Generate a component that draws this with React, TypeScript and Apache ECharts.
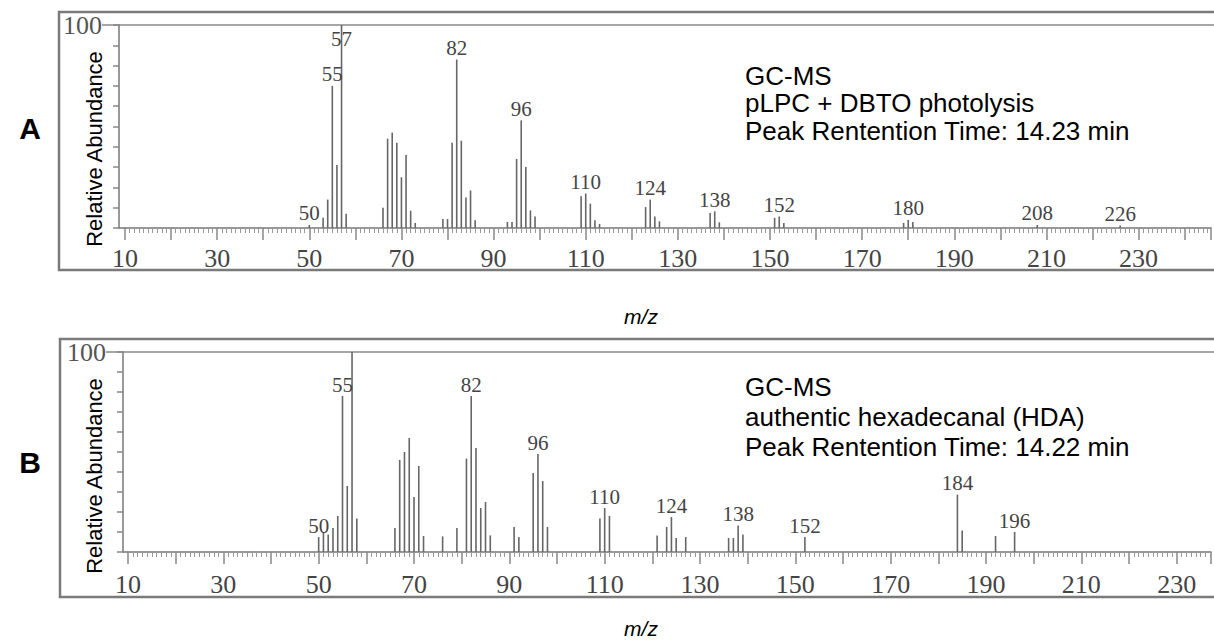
import React, { useEffect, useRef } from "react";
import * as echarts from "echarts";

// ---- data ----
const mzA = [50, 53, 54, 55, 56, 57, 58, 66, 67, 68, 69, 70, 71, 72, 73, 79, 80, 81, 82, 83, 84, 85, 86, 93, 94, 95, 96, 97, 98, 99, 109, 110, 111, 112, 113, 123, 124, 125, 126, 137, 138, 139, 151, 152, 153, 179, 180, 181, 208, 226];
const abundanceA = [1.5, 5, 14, 70, 31, 100, 7, 10, 44, 47, 42, 25, 36, 8.5, 2.5, 4.4, 4.4, 42, 83, 43, 15, 18.5, 3.8, 3, 3, 34, 53, 30, 8.7, 5.7, 15.6, 17, 12, 3.8, 2, 10.3, 14, 5.7, 3.3, 7.4, 8.2, 2.8, 5, 5.7, 2.5, 2.5, 4, 3, 1.5, 1.2];
const labelsA = [50, 55, 57, 82, 96, 110, 124, 138, 152, 180, 208, 226];

const mzB = [50, 51, 52, 53, 54, 55, 56, 57, 58, 66, 67, 68, 69, 70, 71, 72, 76, 79, 81, 82, 83, 84, 85, 86, 91, 92, 95, 96, 97, 98, 109, 110, 111, 121, 123, 124, 125, 127, 136, 137, 138, 139, 152, 184, 185, 192, 196];
const abundanceB = [7.5, 9.7, 8.7, 12, 18, 78, 33, 100, 16.7, 12, 46, 50, 57, 27.5, 43, 8, 7.8, 12, 46.7, 78, 52, 22, 25, 8.3, 12.5, 7.5, 39.5, 49, 35.5, 12.5, 16.7, 22, 18, 8.3, 12.5, 17.5, 7, 7.5, 7, 7, 13.3, 8.8, 7.5, 28.7, 10.8, 8, 10];
const labelsB = [50, 55, 82, 96, 110, 124, 138, 152, 184, 196];

const textA = ["GC-MS", "pLPC + DBTO photolysis", "Peak Rentention Time: 14.23 min"];
const textB = ["GC-MS", "authentic hexadecanal (HDA)", "Peak Rentention Time: 14.22 min"];

const W = 1214;
const H = 643;
const SERIF = "Liberation Serif";
const SANS = "Liberation Sans";

// layout of each panel
const panels = [
  { left: 125, top: 25, height: 203, pxPerUnit: 4.62, yOff: 6, frameX: 59, frameY: 12, frameH: 258, letter: "A", letterY: 128, textTop: 62, textLH: 27.5, raY: 149, mzY: 316, labelMargin: 17 },
  { left: 128, top: 352, height: 200, pxPerUnit: 4.78, yOff: 5, frameX: 60, frameY: 339, frameH: 258, letter: "B", letterY: 462, textTop: 372, textLH: 30, raY: 476, mzY: 628, labelMargin: 19 },
];

export default function App() {
  const ref = useRef<HTMLDivElement>(null);
  useEffect(() => {
    if (!ref.current) return;
    const chart = echarts.init(ref.current, null, { renderer: "svg" });
    const sets = [
      { mz: mzA, ab: abundanceA, labels: labelsA, text: textA },
      { mz: mzB, ab: abundanceB, labels: labelsB, text: textB },
    ];
    const graphic: any[] = [];
    panels.forEach((p, i) => {
      const axisX = p.left - p.yOff;
      graphic.push(
        { type: "rect", shape: { x: p.frameX, y: p.frameY, width: W, height: p.frameH }, style: { fill: "none", stroke: "#7a7a7a", lineWidth: 2.5 }, silent: true },
        { type: "line", shape: { x1: axisX, y1: p.top + p.height, x2: p.left, y2: p.top + p.height }, style: { stroke: "#777", lineWidth: 1.5 } },
        { type: "line", shape: { x1: axisX - 17, y1: p.top, x2: W, y2: p.top }, style: { stroke: "#888", lineWidth: 1.5 } },
        { type: "text", x: 30, y: p.letterY, style: { text: p.letter, fontFamily: SANS, fontWeight: "bold", fontSize: 30, fill: "#000", align: "center", verticalAlign: "middle" } },
        { type: "text", x: 94, y: p.raY, rotation: Math.PI / 2, style: { text: "Relative Abundance", fontFamily: SANS, fontSize: 22, fill: "#000", align: "center", verticalAlign: "middle" } },
        { type: "text", x: 641, y: p.mzY, style: { text: "m/z", fontFamily: SANS, fontStyle: "italic", fontSize: 21, fill: "#000", align: "center", verticalAlign: "middle" } },
        { type: "text", x: 745, y: p.textTop, style: { text: sets[i].text.join("\n"), fontFamily: SANS, fontSize: 26, lineHeight: p.textLH, fill: "#000", align: "left", verticalAlign: "top" } }
      );
    });

    const option: any = {
      animation: false,
      grid: panels.map((p) => ({ left: p.left, top: p.top, height: p.height, right: 0 })),
      xAxis: panels.map((p, i) => ({
        type: "value",
        gridIndex: i,
        min: 10,
        max: 10 + (W - p.left) / p.pxPerUnit,
        interval: 10,
        axisLine: { lineStyle: { color: "#777", width: 1.5 } },
        axisTick: { length: 12, lineStyle: { color: "#888", width: 1.5 } },
        minorTick: { show: true, splitNumber: 10, length: 5, lineStyle: { color: "#999", width: 1 } },
        minorSplitLine: { show: false },
        splitLine: { show: false },
        axisLabel: {
          margin: p.labelMargin,
          fontFamily: SERIF,
          fontSize: 26,
          color: "#444",
          formatter: (v: number) => (Math.abs(((v - 10) % 20)) < 1e-6 && v <= 240 ? String(v) : ""),
        },
      })),
      yAxis: panels.map((p, i) => ({
        type: "value",
        gridIndex: i,
        min: 0,
        max: 100,
        interval: 10,
        offset: p.yOff,
        axisLine: { show: true, lineStyle: { color: "#777", width: 1.5 } },
        axisTick: { show: true, length: 6, lineStyle: { color: "#888", width: 1.5 } },
        splitLine: { show: false },
        axisLabel: {
          margin: 17,
          fontFamily: SERIF,
          fontSize: 26,
          color: "#555",
          formatter: (v: number) => (v === 100 ? "100" : ""),
        },
      })),
      series: sets.map((s, i) => ({
        type: "bar",
        xAxisIndex: i,
        yAxisIndex: i,
        barWidth: 1.6,
        itemStyle: { color: "#666" },
        label: {
          show: false,
          position: "top",
          distance: 1,
          fontFamily: SERIF,
          fontSize: 21,
          color: "#444",
          formatter: (prm: any) => String(prm.value[0]),
        },
        data: s.mz.map((m, k) => {
          const item: any = { value: [m, s.ab[k]] };
          if (s.labels.includes(m)) {
            item.label = s.ab[k] >= 100 ? { show: true, position: "insideTop", distance: 3 } : { show: true };
          }
          return item;
        }),
      })),
      graphic,
    };
    chart.setOption(option);
    return () => chart.dispose();
  }, []);
  return <div ref={ref} style={{ position: "fixed", left: 0, top: 0, width: W, height: H, background: "#fff" }} />;
}
